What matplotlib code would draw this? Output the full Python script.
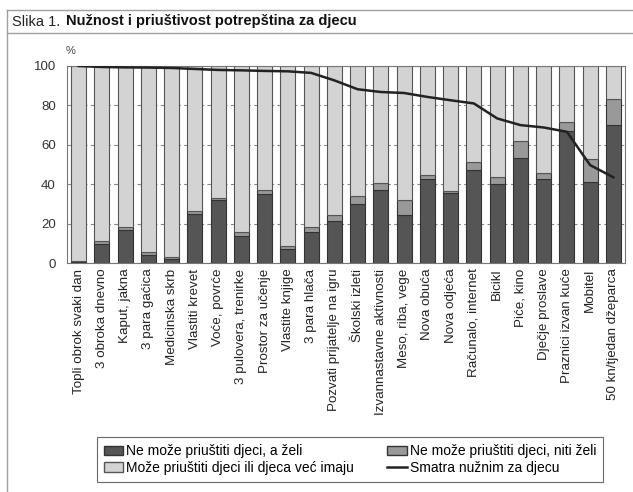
import numpy as np
import matplotlib.pyplot as plt
from matplotlib.lines import Line2D
from matplotlib.patches import Patch

plt.rcParams['font.family'] = ['Liberation Sans', 'DejaVu Sans']

kategorije = ['Topli obrok svaki dan', '3 obroka dnevno', 'Kaput, jakna', '3 para gaćica',
              'Medicinska skrb', 'Vlastiti krevet', 'Voće, povrće', '3 pulovera, trenirke',
              'Prostor za učenje', 'Vlastite knjige', '3 para hlača', 'Pozvati prijatelje na igru',
              'Školski izleti', 'Izvannastavne aktivnosti', 'Meso, riba, vege', 'Nova obuća',
              'Nova odjeća', 'Računalo, internet', 'Bicikl', 'Piće, kino', 'Dječje proslave',
              'Praznici izvan kuće', 'Mobitel', '50 kn/tjedan džeparca']

# Ne može priuštiti djeci, a želi
ne_zeli = [0.3, 9.5, 17, 4, 2, 25, 32, 13.5, 35, 7, 15.5, 21.5,
           30, 37, 24.5, 42.5, 35.5, 47, 40, 53.5, 42.5, 67, 41, 70]
# Ne može priuštiti djeci, niti želi
ne_niti = [0.5, 1.5, 1.5, 1.5, 1.2, 1.5, 1, 2, 2, 1.5, 3, 3,
           4, 3.5, 7.5, 2, 1, 4.5, 3.5, 8.5, 3, 4.5, 12, 13]
# Smatra nužnim za djecu
nuzno = [100, 99.5, 99.3, 99.2, 99, 98.5, 98, 97.8, 97.5, 97.3, 96.5, 92.7,
         88.2, 86.8, 86.3, 84.3, 82.6, 81, 73.4, 70, 68.8, 66.6, 49.7, 43.5]

ne_zeli = np.array(ne_zeli)
ne_niti = np.array(ne_niti)
moze = 100 - ne_zeli - ne_niti

fig = plt.figure(figsize=(6.33, 4.92), dpi=100)

# okvir slike i naslov
okvir = '#a0a0a0'
fig.add_artist(Line2D([7 / 633, 1], [1 - 10 / 492] * 2, color=okvir, lw=1))
fig.add_artist(Line2D([7 / 633, 1], [1 - 33 / 492] * 2, color=okvir, lw=1))
fig.add_artist(Line2D([7 / 633] * 2, [0, 1 - 10 / 492], color=okvir, lw=1))
fig.text(12 / 633, 1 - 21.5 / 492, 'Slika 1.', fontsize=10.5, va='center', color='#222222')
fig.text(66 / 633, 1 - 21.5 / 492, 'Nužnost i priuštivost potrepština za djecu',
         fontsize=10.5, va='center', fontweight='bold', color='#111111')

ax = fig.add_axes([67 / 633, 1 - 263 / 492, 558 / 633, 197 / 492])
x = np.arange(len(kategorije))
w = 0.64
ax.bar(x, ne_zeli, w, color='#555555', edgecolor='#333333', lw=0.8, zorder=2)
ax.bar(x, ne_niti, w, bottom=ne_zeli, color='#999999', edgecolor='#333333', lw=0.8, zorder=2)
ax.bar(x, moze, w, bottom=ne_zeli + ne_niti, color='#d3d3d3', edgecolor='#555555', lw=0.8, zorder=2)
ax.plot(x, nuzno, color='#222222', lw=1.8, zorder=3)

ax.set_xlim(-0.5, len(kategorije) - 0.5)
ax.set_ylim(0, 100)
ax.set_yticks(range(0, 101, 20))
ax.set_xticks(x)
ax.set_xticklabels(kategorije, rotation=90, fontsize=9.6, color='#222222')
ax.tick_params(axis='y', labelsize=9.5, length=0, pad=8, colors='#333333')
ax.tick_params(axis='x', length=0, pad=4)
ax.yaxis.grid(True, linestyle=(0, (4, 3)), color='#888888', lw=0.8, zorder=0)
for s in ax.spines.values():
    s.set_color('#777777')
ax.text(-0.55, 105, '%', fontsize=8, color='#444444', ha='left', va='bottom', clip_on=False)

handles = [Patch(facecolor='#555555', edgecolor='#333333'),
           Patch(facecolor='#d3d3d3', edgecolor='#555555'),
           Patch(facecolor='#999999', edgecolor='#333333'),
           Line2D([], [], color='#222222', lw=1.8)]
labels = ['Ne može priuštiti djeci, a želi', 'Može priuštiti djeci ili djeca već imaju',
          'Ne može priuštiti djeci, niti želi', 'Smatra nužnim za djecu']
leg = fig.legend(handles, labels, ncol=2, loc='lower left', mode='expand',
                 bbox_to_anchor=(97 / 633, 1 - 482 / 492, 506 / 633, 46 / 492),
                 fontsize=10, frameon=True, fancybox=False, edgecolor='#444444',
                 handlelength=1.4, handletextpad=0.2, labelspacing=0.2,
                 borderpad=0.5, borderaxespad=0)
leg.get_frame().set_linewidth(0.8)

plt.savefig('out.png', dpi=100)
